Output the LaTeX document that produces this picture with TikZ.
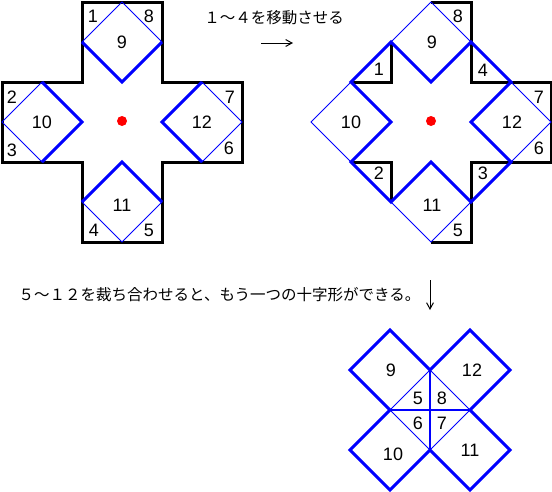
\documentclass[tikz,border=0pt]{standalone}
\usepackage{fontspec}
\setmainfont{Liberation Sans}
\newfontfamily\jpfont{Noto Sans CJK JP}
\usepackage{tikz}
\usetikzlibrary{arrows.meta}
\definecolor{PureBlue}{HTML}{0000FF}
\definecolor{DotRed}{HTML}{FF0000}

\begin{document}
\begin{tikzpicture}[
    x=1pt, y=-1pt,
    num/.style={font=\fontsize{18}{18}\selectfont, inner sep=0pt},
    caption/.style={font=\jpfont\fontsize{15.5}{16}\selectfont, inner sep=0pt},
    outline/.style={line width=3pt, draw=black, line join=miter},
    cutthin/.style={line width=0.8pt, draw=PureBlue},
    cutthick/.style={line width=3pt, draw=PureBlue, line join=miter},
    cutmid/.style={line width=1.6pt, draw=PureBlue},
    arr/.style={-{Straight Barb[length=2.2mm, width=2.4mm]}, line width=1pt}
]
\useasboundingbox (0,0) rectangle (552,491);

% 左の十字形
\draw[outline] (82,2) -- (162,2) -- (162,82) -- (242,82) -- (242,162) -- (162,162)
  -- (162,242) -- (82,242) -- (82,162) -- (2,162) -- (2,82) -- (82,82) -- cycle;
\draw[cutthin] (122,2) -- (162,42) -- (122,82) -- (82,42) -- cycle;
\draw[cutthin] (42,82) -- (82,122) -- (42,162) -- (2,122) -- cycle;
\draw[cutthin] (202,82) -- (242,122) -- (202,162) -- (162,122) -- cycle;
\draw[cutthin] (122,162) -- (162,202) -- (122,242) -- (82,202) -- cycle;
\draw[cutthick] (82,42) -- (122,82) -- (162,42);
\draw[cutthick] (42,82) -- (82,122) -- (42,162);
\draw[cutthick] (202,82) -- (162,122) -- (202,162);
\draw[cutthick] (82,202) -- (122,162) -- (162,202);
\fill[DotRed] (122,121) circle (5);
\node[num] (l1) at (93,16) {1};
\node[num] (l8) at (149,16) {8};
\node[num] (l9) at (122,42) {9};
\node[num] (l2) at (12,97) {2};
\node[num] (l3) at (12,150) {3};
\node[num] (l10) at (42,122) {10};
\node[num] (l12) at (202,122) {12};
\node[num] (l7) at (230,97) {7};
\node[num] (l6) at (229,148) {6};
\node[num] (l11) at (122,205) {11};
\node[num] (l4) at (94,230) {4};
\node[num] (l5) at (149,230) {5};

% 説明と矢印
\node[caption] (move) at (274,18) {１～４を移動させる};
\coordinate (arrL) at (261,43);
\coordinate (arrR) at (293,43);
\draw[arr] (arrL) -- (arrR);

% 右の十字形（1～4を移動したもの）
\begin{scope}[xshift=309]
\draw[outline] (122,2) -- (162,2) -- (162,82) -- (242,82) -- (242,162) -- (162,162)
  -- (162,242) -- (122,242);
\draw[outline] (82,42) -- (82,82) -- (42,82);
\draw[outline] (42,162) -- (82,162) -- (82,202);
\draw[cutthin] (122,2) -- (162,42) -- (122,82) -- (82,42) -- cycle;
\draw[cutthin] (42,82) -- (82,122) -- (42,162) -- (2,122) -- cycle;
\draw[cutthin] (202,82) -- (242,122) -- (202,162) -- (162,122) -- cycle;
\draw[cutthin] (122,162) -- (162,202) -- (122,242) -- (82,202) -- cycle;
\draw[cutthick] (42,82) -- (82,42) -- (122,82) -- (162,42) -- (202,82) -- (162,122)
  -- (202,162) -- (162,202) -- (122,162) -- (82,202) -- (42,162) -- (82,122) -- cycle;
\fill[DotRed] (122,121) circle (5);
\node[num] (r8) at (149,16) {8};
\node[num] (r9) at (123,42) {9};
\node[num] (r1) at (70,69) {1};
\node[num] (r4) at (174,70) {4};
\node[num] (r10) at (42,122) {10};
\node[num] (r12) at (203,122) {12};
\node[num] (r7) at (230,97) {7};
\node[num] (r6) at (230,148) {6};
\node[num] (r2) at (70,173) {2};
\node[num] (r3) at (174,173) {3};
\node[num] (r11) at (123,205) {11};
\node[num] (r5) at (149,230) {5};
\end{scope}

% 下の説明と矢印
\node[caption] (join) at (219.5,295) {５～１２を裁ち合わせると、もう一つの十字形ができる。};
\coordinate (arrT) at (430,280);
\coordinate (arrB) at (430,310);
\draw[arr] (arrT) -- (arrB);

% 下の十字形
\draw[cutthin] (430,370) -- (470,410) -- (430,450) -- (390,410) -- cycle;
\draw[cutmid] (430,370) -- (430,450);
\draw[cutmid] (390,410) -- (470,410);
\draw[cutthick] (390,330) -- (430,370) -- (470,330) -- (510,370) -- (470,410) -- (510,450)
  -- (470,490) -- (430,450) -- (390,490) -- (350,450) -- (390,410) -- (350,370) -- cycle;
\node[num] (b9) at (391,370) {9};
\node[num] (b12) at (472,370) {12};
\node[num] (b10) at (393,454) {10};
\node[num] (b11) at (470,450) {11};
\node[num] (b5) at (418,398) {5};
\node[num] (b8) at (442,398) {8};
\node[num] (b6) at (418,423) {6};
\node[num] (b7) at (442,423) {7};
\end{tikzpicture}
\end{document}
